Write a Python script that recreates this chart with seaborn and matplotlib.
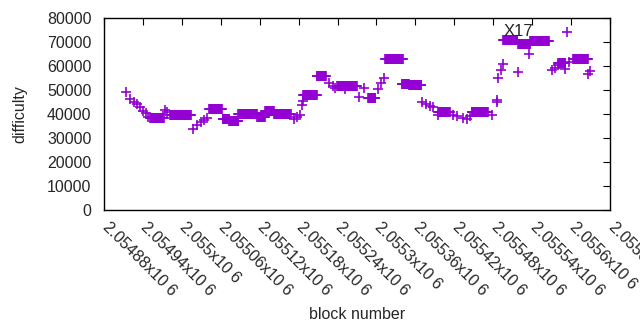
import numpy as np
import pandas as pd
import matplotlib.pyplot as plt
import matplotlib.transforms as mtransforms
import seaborn as sns

base = 2054880

# plateaus: block offsets (from base) and difficulty
seg_start = [71, 102, 162, 183, 193, 207, 236, 248, 262, 307, 328, 359, 407, 433, 459, 470, 515, 567, 615, 638, 657, 700, 723]
seg_end = [92, 134, 182, 193, 207, 236, 248, 262, 288, 328, 342, 390, 418, 461, 470, 489, 533, 592, 637, 657, 686, 711, 746]
seg_diff = [38200, 39600, 42000, 38000, 37200, 40000, 38800, 41300, 40000, 47800, 55800, 51800, 46500, 62800, 52600, 51900, 41000, 40700, 71000, 69200, 70600, 61300, 63000]

# single blocks in between
pt_block = [34, 40, 46, 51, 55, 60, 65, 68, 94, 97, 137, 143, 150, 154, 159,
            293, 298, 302, 305, 307, 347, 353, 356, 371, 393, 401, 422, 427, 432,
            490, 496, 503, 507, 515, 538, 544, 553, 560, 564, 598, 606, 606, 607,
            612, 615, 638, 655, 691, 695, 700, 711, 714, 717, 746, 749]
pt_diff = [49300, 46300, 45000, 44200, 42900, 41300, 40400, 38800, 41700, 40800,
           33800, 35400, 36700, 37500, 38300,
           38000, 38800, 39600, 43800, 45400, 52900, 51700, 50800, 50400, 47100, 51000,
           50400, 52900, 55000,
           45000, 44200, 43300, 42900, 39600, 39600, 39200, 38300, 37900, 39200,
           39600, 45800, 45000, 55000, 58300, 60800, 57500, 65000, 58300, 59200, 60400,
           58700, 74200, 61700, 56700, 57900]

blocks, diffs = [], []
for s, e, d in zip(seg_start, seg_end, seg_diff):
    b = np.arange(s, e + 1)
    blocks += list(b)
    diffs += [d] * len(b)
blocks += pt_block
diffs += pt_diff
df = pd.DataFrame({'block': np.array(blocks) + base, 'difficulty': diffs})

xticks = np.arange(2054880, 2055661, 60)
xticklabels = ['%gx10 6' % (t / 1e6) for t in xticks]

sns.set_style('white')
plt.rcParams['font.family'] = ['Liberation Sans', 'DejaVu Sans']

fig = plt.figure(figsize=(6.4, 3.3), dpi=100)
ax = fig.add_axes([104 / 640, 120 / 330, 506 / 640, 192 / 330])
sns.scatterplot(data=df, x='block', y='difficulty', marker='+', color='#9400D3',
                s=50, linewidth=1.2, ax=ax, legend=False)

ax.set_xlim(2054880, 2055660)
ax.set_ylim(0, 80000)
ax.set_yticks(np.arange(0, 80001, 10000))
ax.set_xticks(xticks)
ax.set_xticklabels([])
# rotated labels drawn by hand so they can sit a little right of the tick
lab_tr = ax.get_xaxis_transform() + mtransforms.ScaledTranslation(0.06, -0.10, fig.dpi_scale_trans)
for t, s in zip(xticks, xticklabels):
    ax.text(t, 0, s, transform=lab_tr, rotation=-45, ha='left', va='top',
            rotation_mode='anchor', fontsize=11.5, color='#262626', clip_on=False)
ax.tick_params(axis='y', labelsize=11.5, pad=9)
ax.tick_params(direction='in', length=5, width=0.8, top=True, right=True,
               color='black')
for sp in ax.spines.values():
    sp.set_color('black')
    sp.set_linewidth(1)
ax.set_xlabel('block number', fontsize=11.5)
ax.xaxis.set_label_coords(0.5, -0.505)
ax.set_ylabel('difficulty', fontsize=11.5, labelpad=14)
ax.text(2055496, 74300, 'X17', fontsize=12, ha='left', va='center')

fig.savefig('out.png', dpi=100)
